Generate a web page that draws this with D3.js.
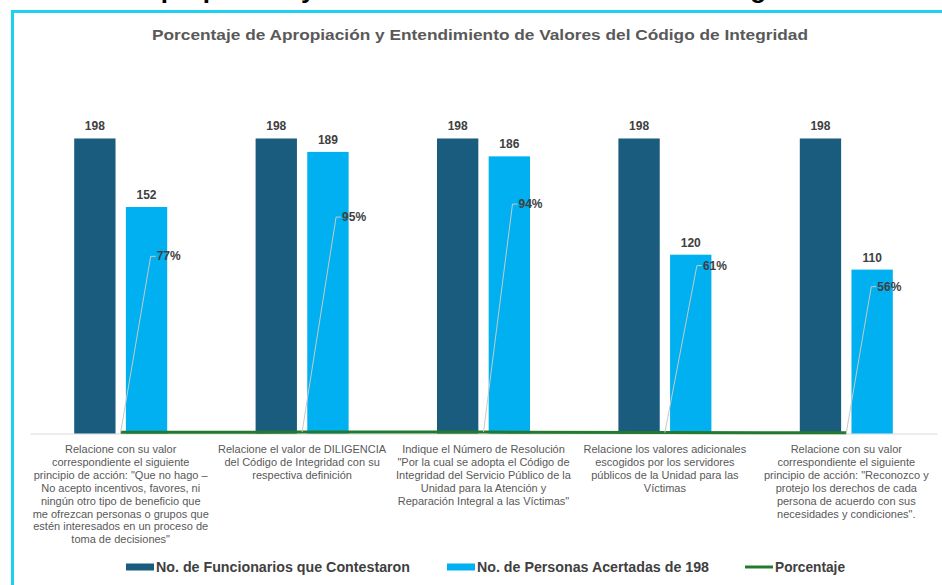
<!DOCTYPE html>
<html>
<head>
	<meta charset="UTF-8" />
	<title>Porcentaje de Apropiación</title>
	<script src="https://cdn.jsdelivr.net/npm/d3@7/dist/d3.min.js"></script>
	<style>
		body { margin:0; background:#fff; }
		svg text { font-family:"Liberation Sans", Arial, sans-serif; }
	</style>
</head>
<body>
	<div id="chart"></div>

	<script type="text/javascript">
		// data
		var categories = [
			["Relacione con su valor", "correspondiente  el siguiente", "principio de acción: \"Que no hago –", "No acepto incentivos, favores,  ni", "ningún otro tipo de beneficio que", "me ofrezcan personas  o grupos que", "estén interesados  en un proceso de", "toma de decisiones\""],
			["Relacione el valor de DILIGENCIA", "del Código de Integridad con su", "respectiva definición"],
			["Indique el Número de Resolución", "\"Por la cual se adopta el Código de", "Integridad  del Servicio Público de la", "Unidad para la Atención y", "Reparación  Integral  a las Víctimas\""],
			["Relacione los valores adicionales", "escogidos por los servidores", "públicos de la Unidad para las", "Víctimas"],
			["Relacione  con su valor", "correspondiente  el siguiente", "principio de acción: \"Reconozco y", "protejo los derechos  de cada", "persona de acuerdo con sus", "necesidades  y condiciones\"."]
		];
		var seriesNames = ["No. de Funcionarios que Contestaron", "No. de Personas Acertadas de 198", "Porcentaje"];
		var funcionarios = [198, 198, 198, 198, 198];
		var acertadas = [152, 189, 186, 120, 110];
		var porcentaje = [0.77, 0.95, 0.94, 0.61, 0.56];
		var pctLabels = ["77%", "95%", "94%", "61%", "56%"];

		// manual label placement (dragged labels in the original)
		var pctLabelOffset = [[36,-176],[40,-215],[35,-228],[38,-167],[31,-146]];
		var legX = [126, 447, 745], legW = [254, 232, 70];

		var W = 942, H = 585;
		var colDark = "#1a5c7d", colLight = "#00b0f0", colGreen = "#237a2f";

		var svg = d3.select("#chart").append("svg")
			.attr("width", W)
			.attr("height", H);

		// big page heading, cut off at the top
		svg.append("text")
			.attr("x", 142)
			.attr("y", -2)
			.attr("font-size", 26)
			.attr("font-weight", "bold")
			.attr("fill", "#000")
			.text("Apropiación y Entendimiento de Valores del Código");

		// cyan frame
		svg.append("rect")
			.attr("x", 12.5).attr("y", 11.5)
			.attr("width", W + 20).attr("height", H + 20)
			.attr("fill", "#fff")
			.attr("stroke", "#1cd2ef")
			.attr("stroke-width", 3);

		svg.append("text")
			.attr("x", 480)
			.attr("y", 40)
			.attr("text-anchor", "middle")
			.attr("font-size", 15)
			.attr("font-weight", "bold")
			.attr("fill", "#595959")
			.attr("textLength", 656)
			.attr("lengthAdjust", "spacingAndGlyphs")
			.text("Porcentaje  de Apropiación  y Entendimiento  de  Valores del Código de Integridad");

		var idx = d3.range(categories.length);
		var x0 = d3.scaleBand().domain(idx).range([30, 937]);
		var x1 = d3.scaleBand().domain([0, 1]).range([0, 93]).paddingInner(0.2);
		var y = d3.scaleLinear().domain([0, 250]).range([433.5, 61]);
		var cx = function(i) { return x0(i) + x0.bandwidth() / 2; };
		var gx = function(i) { return cx(i) - 46.5; };

		// axis
		var ax = svg.append("g")
			.attr("transform", "translate(0," + y(0) + ")")
			.call(d3.axisBottom(x0).tickSize(0).tickFormat(""));
		ax.select(".domain").attr("stroke", "#d9d9d9").attr("stroke-width", 1);

		var bars = [funcionarios, acertadas];
		var cols = [colDark, colLight];
		bars.forEach(function(vals, s) {
			svg.append("g").selectAll("rect")
				.data(vals)
				.enter().append("rect")
				.attr("x", function(d, i) { return gx(i) + x1(s); })
				.attr("y", function(d) { return y(d); })
				.attr("width", x1.bandwidth())
				.attr("height", function(d) { return y(0) - y(d); })
				.attr("fill", cols[s]);
			svg.append("g").selectAll("text")
				.data(vals)
				.enter().append("text")
				.attr("x", function(d, i) { return gx(i) + x1(s) + x1.bandwidth() / 2; })
				.attr("y", function(d) { return y(d) - 8; })
				.attr("text-anchor", "middle")
				.attr("font-size", 12)
				.attr("font-weight", "bold")
				.attr("fill", "#404040")
				.text(function(d) { return d; });
		});

		// porcentaje line
		var line = d3.line()
			.x(function(d, i) { return cx(i); })
			.y(function(d) { return y(d); });
		svg.append("path")
			.datum(porcentaje)
			.attr("d", line)
			.attr("fill", "none")
			.attr("stroke", colGreen)
			.attr("stroke-width", 3);

		// leader lines + percent labels
		porcentaje.forEach(function(p, i) {
			var px = cx(i), py = y(p);
			var lx = px + pctLabelOffset[i][0], ly = py + pctLabelOffset[i][1];
			svg.append("polyline")
				.attr("points", [[px, py], [lx - 6, ly], [lx - 1, ly]].map(function(a) { return a.join(","); }).join(" "))
				.attr("fill", "none")
				.attr("stroke", "#c8c8c8")
				.attr("stroke-width", 1);
			svg.append("text")
				.attr("x", lx)
				.attr("y", ly + 4)
				.attr("font-size", 12)
				.attr("font-weight", "bold")
				.attr("fill", "#404040")
				.text(pctLabels[i]);
		});

		// category labels
		categories.forEach(function(lines, i) {
			var t = svg.append("text")
				.attr("text-anchor", "middle")
				.attr("font-size", 11)
				.attr("fill", "#595959");
			lines.forEach(function(l, k) {
				t.append("tspan")
					.attr("x", cx(i))
					.attr("y", 453 + k * 12.9)
					.text(l);
			});
		});

		// legend
		var lg = svg.append("g");
		seriesNames.forEach(function(n, i) {
			if (i < 2) {
				lg.append("rect")
					.attr("x", legX[i]).attr("y", 563.5)
					.attr("width", 28).attr("height", 7)
					.attr("fill", cols[i]);
			} else {
				lg.append("line")
					.attr("x1", legX[i]).attr("x2", legX[i] + 28)
					.attr("y1", 567).attr("y2", 567)
					.attr("stroke", colGreen)
					.attr("stroke-width", 3);
			}
			lg.append("text")
				.attr("x", legX[i] + 30)
				.attr("y", 572)
				.attr("font-size", 14)
				.attr("font-weight", "bold")
				.attr("fill", "#404040")
				.attr("textLength", legW[i])
				.attr("lengthAdjust", "spacingAndGlyphs")
				.text(n);
		});
	</script>
</body>
</html>
